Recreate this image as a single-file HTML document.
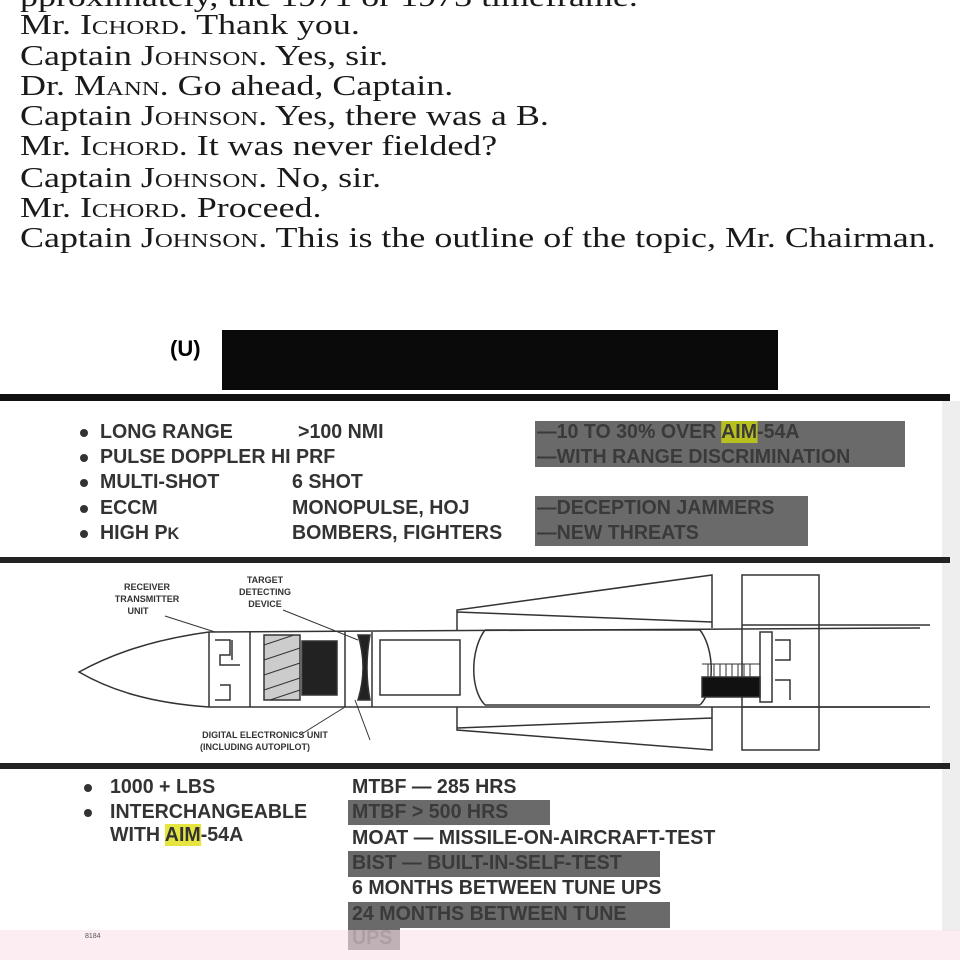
<!DOCTYPE html>
<html><head><meta charset="utf-8"><style>
body{margin:0;width:960px;height:960px;overflow:hidden;background:#fff;position:relative;font-family:"Liberation Serif",serif}
.t{position:absolute;left:20px;font-size:29px;color:#1a1a1a;white-space:nowrap;line-height:30px;transform-origin:left center;transform:scaleX(1.24)}
.sc{font-variant:small-caps}
.s{position:absolute;font-family:"Liberation Sans",sans-serif;font-weight:bold;font-size:20px;color:#333;white-space:nowrap;line-height:24px;transform-origin:left center;transform:scaleX(0.98)}
.b{position:absolute;width:8px;height:8px;border-radius:50%;background:#333}
.g{position:absolute;background:#6a6a6a}
.hr{position:absolute;left:0;width:950px;background:#111}
</style></head><body>
<div class="t" style="top:-18px">pproximately, the 1971 or 1973 timeframe.</div>
<div class="t" style="top:10px">Mr. <span class="sc">Ichord</span>. Thank you.</div>
<div class="t" style="top:41px">Captain <span class="sc">Johnson</span>. Yes, sir.</div>
<div class="t" style="top:71px">Dr. <span class="sc">Mann</span>. Go ahead, Captain.</div>
<div class="t" style="top:101px">Captain <span class="sc">Johnson</span>. Yes, there was a B.</div>
<div class="t" style="top:131px">Mr. <span class="sc">Ichord</span>. It was never fielded?</div>
<div class="t" style="top:163px">Captain <span class="sc">Johnson</span>. No, sir.</div>
<div class="t" style="top:193px">Mr. <span class="sc">Ichord</span>. Proceed.</div>
<div class="t" style="top:223px">Captain <span class="sc">Johnson</span>. This is the outline of the topic, Mr. Chairman.</div>

<div style="position:absolute;left:170px;top:336px;font:bold 22px 'Liberation Sans',sans-serif">(U)</div>
<div style="position:absolute;left:222px;top:330px;width:556px;height:60px;background:#0a0a0a"></div>
<div class="hr" style="top:394px;height:7px"></div>
<div style="position:absolute;left:942px;top:401px;width:18px;height:530px;background:#eee"></div>

<div class="g" style="left:535px;top:421px;width:370px;height:46px"></div>
<div class="g" style="left:535px;top:496px;width:273px;height:50px"></div>
<div class="b" style="left:80px;top:429px"></div><div class="s" style="left:100px;top:420px">LONG RANGE</div><div class="s" style="left:298px;top:420px">&gt;100 NMI</div>
<div class="b" style="left:80px;top:454px"></div><div class="s" style="left:100px;top:445px">PULSE DOPPLER HI PRF</div>
<div class="b" style="left:80px;top:479px"></div><div class="s" style="left:100px;top:470px">MULTI-SHOT</div><div class="s" style="left:292px;top:470px">6 SHOT</div>
<div class="b" style="left:80px;top:505px"></div><div class="s" style="left:100px;top:496px">ECCM</div><div class="s" style="left:292px;top:496px">MONOPULSE, HOJ</div>
<div class="b" style="left:80px;top:530px"></div><div class="s" style="left:100px;top:521px">HIGH P<small>K</small></div><div class="s" style="left:292px;top:521px">BOMBERS, FIGHTERS</div>
<div class="s" style="left:537px;top:420px;color:#3a3a3a">—10 TO 30% OVER <span style="background:#b8c020">AIM</span>-54A</div>
<div class="s" style="left:537px;top:445px;color:#3a3a3a">—WITH RANGE DISCRIMINATION</div>
<div class="s" style="left:537px;top:496px;color:#3a3a3a">—DECEPTION JAMMERS</div>
<div class="s" style="left:537px;top:521px;color:#3a3a3a">—NEW THREATS</div>

<div class="hr" style="top:557px;height:6px;background:#222"></div>

<svg style="position:absolute;left:0;top:560px" width="960" height="205" viewBox="0 560 960 205" fill="none" stroke="#333" stroke-width="1.5">
<path d="M209 632 C150 640 110 655 79 672 C110 690 150 703 209 707"/>
<line x1="209" y1="632" x2="920" y2="628"/><line x1="209" y1="707" x2="920" y2="707"/>
<line x1="209" y1="632" x2="209" y2="707"/><line x1="250" y1="632" x2="250" y2="707"/>
<path d="M215 640 h15 v15 h-10 v10 h20 M215 700 h15 v-15 h-10 M232 640 v20"/>
<rect x="264" y="635" width="36" height="65" fill="#ccc"/>
<path d="M264 645 l30 -10 M264 660 l36 -12 M264 675 l36 -12 M264 690 l36 -12 M270 700 l30 -10" stroke-width="1"/>
<rect x="302" y="641" width="35" height="54" fill="#222"/>
<path d="M358 635 q10 32 0 65 h12 q-6 -32 0 -65z" fill="#222"/>
<line x1="345" y1="632" x2="345" y2="707"/>
<rect x="380" y="640" width="80" height="55"/>
<line x1="372" y1="632" x2="372" y2="707"/>
<path d="M485 630 C470 650 470 690 485 705 M700 630 C715 650 715 690 700 705 M485 630 H700 M485 705 H700"/>
<path d="M457 630 V610 L712 575 V628 M457 612 L712 622"/>
<path d="M457 707 V730 L712 750 V707 M457 728 L712 718"/>
<rect x="742" y="575" width="77" height="175"/>
<line x1="742" y1="625" x2="930" y2="625"/><line x1="742" y1="707" x2="930" y2="707"/>
<rect x="702" y="677" width="58" height="20" fill="#111"/>
<path d="M702 664 h58 v13 M708 664 v13 M714 664 v13 M720 664 v13 M726 664 v13 M732 664 v13 M738 664 v13 M744 664 v13 M750 664 v13" stroke-width="1"/>
<rect x="760" y="632" width="12" height="70"/><path d="M775 640 h15 v20 h-15 M775 680 h15 v20"/>
<path d="M165 616 L215 632 M283 610 L358 640 M300 735 L345 707 M370 740 L355 700" stroke-width="1"/>
<g fill="#333" stroke="none" font-family="Liberation Sans,sans-serif" font-size="9" font-weight="bold" text-anchor="middle">
<text x="147" y="590">RECEIVER</text><text x="147" y="602">TRANSMITTER</text><text x="138" y="614">UNIT</text>
<text x="265" y="583">TARGET</text><text x="265" y="595">DETECTING</text><text x="265" y="607">DEVICE</text>
<text x="265" y="738">DIGITAL ELECTRONICS UNIT</text><text x="255" y="750">(INCLUDING AUTOPILOT)</text>
</g>
</svg>

<div class="hr" style="top:763px;height:6px;background:#222"></div>

<div class="g" style="left:348px;top:800px;width:202px;height:25px"></div>
<div class="g" style="left:348px;top:851px;width:312px;height:26px"></div>
<div class="g" style="left:348px;top:902px;width:322px;height:26px"></div>
<div class="g" style="left:348px;top:926px;width:52px;height:24px"></div>
<div class="b" style="left:84px;top:784px"></div><div class="s" style="left:110px;top:775px">1000 + LBS</div>
<div class="b" style="left:84px;top:809px"></div><div class="s" style="left:110px;top:800px">INTERCHANGEABLE</div>
<div class="s" style="left:110px;top:823px">WITH <span style="background:#e6e440">AIM</span>-54A</div>
<div class="s" style="left:352px;top:775px">MTBF — 285 HRS</div>
<div class="s" style="left:352px;top:800px;color:#3a3a3a">MTBF &gt; 500 HRS</div>
<div class="s" style="left:352px;top:826px">MOAT — MISSILE-ON-AIRCRAFT-TEST</div>
<div class="s" style="left:352px;top:851px;color:#3a3a3a">BIST — BUILT-IN-SELF-TEST</div>
<div class="s" style="left:352px;top:876px">6 MONTHS BETWEEN TUNE UPS</div>
<div class="s" style="left:352px;top:902px;color:#3a3a3a">24 MONTHS BETWEEN TUNE</div>
<div class="s" style="left:352px;top:926px;color:#3a3a3a">UPS</div>
<div style="position:absolute;left:0;top:930px;width:960px;height:30px;background:rgba(250,225,235,0.6)"></div>
<div style="position:absolute;left:85px;top:933px;font:7px 'Liberation Sans',sans-serif;color:#555">8184</div>
</body></html>
